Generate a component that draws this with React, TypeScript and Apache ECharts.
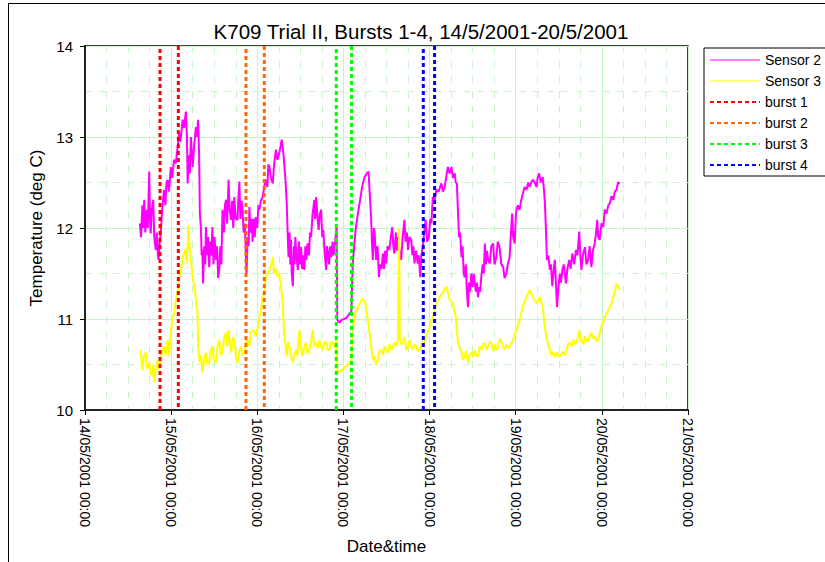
import React, { useEffect, useRef } from 'react';
import * as echarts from 'echarts';

const FONT = '"Liberation Sans", Arial, Helvetica, sans-serif';

const titleText = 'K709 Trial II, Bursts 1-4, 14/5/2001-20/5/2001';
const xAxisName = 'Date&time';
const yAxisName = 'Temperature (deg C)';

// x values are hours since 14/05/2001 00:00
const xTickLabels = [
  '14/05/2001 00:00',
  '15/05/2001 00:00',
  '16/05/2001 00:00',
  '17/05/2001 00:00',
  '18/05/2001 00:00',
  '19/05/2001 00:00',
  '20/05/2001 00:00',
  '21/05/2001 00:00',
];
const yTickLabels = ['10', '11', '12', '13', '14'];

const sensor2: [number, number][] = [
  [15.3, 12.05], [15.6, 11.9], [16.0, 12.25], [16.3, 12.0], [16.5, 12.31], [16.8, 11.95],
  [17.2, 12.2], [17.5, 12.0], [17.9, 12.62], [18.1, 12.1], [18.3, 11.94], [18.6, 12.2],
  [19.0, 12.31], [19.3, 11.9], [19.7, 11.76], [20.0, 11.95], [20.3, 11.7], [20.5, 11.65],
  [20.8, 11.85], [21.1, 11.94], [21.5, 12.2], [22.0, 12.42], [22.4, 12.25], [22.7, 12.5],
  [23.0, 12.53], [23.4, 12.4], [23.9, 12.67], [24.3, 12.55], [24.8, 12.75], [25.3, 12.71],
  [25.7, 12.85], [26.2, 13.04], [26.6, 12.95], [27.2, 13.19], [27.6, 13.1], [28.1, 13.28],
  [28.4, 13.0], [28.6, 12.49], [28.9, 12.8], [29.2, 12.6], [29.5, 13.0], [30.0, 12.67],
  [30.4, 12.9], [30.9, 13.11], [31.2, 13.0], [31.5, 13.19], [31.8, 12.8], [32.0, 12.16],
  [32.3, 12.0], [32.5, 11.7], [32.7, 11.76], [32.9, 11.39], [33.2, 11.8], [33.5, 11.6],
  [33.7, 12.01], [34.0, 11.7], [34.3, 11.9], [34.6, 11.57], [34.9, 11.85], [35.2, 11.7],
  [35.5, 12.01], [35.8, 11.6], [36.1, 11.9], [36.5, 11.65], [36.8, 11.8], [37.1, 11.45],
  [37.4, 11.54], [37.7, 11.8], [38.0, 11.6], [38.3, 12.2], [38.7, 11.95], [39.0, 12.25],
  [39.3, 12.31], [39.6, 12.05], [40.0, 12.53], [40.3, 12.2], [40.7, 12.09], [41.0, 12.3],
  [41.3, 12.0], [41.6, 12.34], [42.0, 12.1], [42.5, 12.09], [42.7, 12.3], [43.0, 12.51],
  [43.3, 12.1], [43.6, 12.3], [43.9, 12.2], [44.2, 11.95], [44.5, 12.05], [44.7, 11.87],
  [45.0, 11.5], [45.3, 11.9], [45.6, 11.8], [45.8, 12.23], [46.1, 11.95], [46.4, 12.1],
  [46.7, 11.85], [47.0, 12.1], [47.3, 11.9], [47.6, 12.12], [48.0, 12.0], [48.3, 12.25],
  [48.6, 12.2], [49.0, 12.3], [49.5, 12.34], [49.9, 12.45], [50.4, 12.53], [50.8, 12.45],
  [51.1, 12.7], [51.4, 12.67], [51.8, 12.55], [52.3, 12.49], [52.7, 12.7], [53.2, 12.86],
  [53.6, 12.75], [54.1, 12.82], [54.5, 12.9], [54.8, 12.97], [55.2, 12.85], [55.5, 12.71],
  [55.9, 12.5], [56.2, 12.27], [56.5, 11.9], [56.7, 11.68], [57.0, 11.95], [57.2, 11.6],
  [57.4, 11.87], [57.6, 11.5], [57.9, 11.36], [58.2, 11.8], [58.4, 11.6], [58.6, 11.9],
  [58.9, 11.7], [59.3, 11.54], [59.6, 11.85], [59.9, 11.6], [60.2, 11.79], [60.5, 11.55],
  [60.8, 11.7], [61.1, 11.54], [61.4, 11.8], [61.7, 11.65], [62.0, 11.83], [62.4, 11.7],
  [62.7, 11.95], [63.0, 11.9], [63.4, 12.15], [63.9, 12.31], [64.1, 12.1], [64.4, 12.34],
  [64.8, 12.1], [65.1, 11.98], [65.4, 12.15], [65.8, 12.2], [66.1, 11.9], [66.4, 11.98],
  [66.8, 11.7], [67.2, 11.54], [67.4, 11.8], [67.6, 11.76], [68.0, 11.6], [68.3, 11.8],
  [68.6, 11.68], [69.0, 11.85], [69.2, 11.7], [69.5, 11.76], [69.8, 11.9], [70.1, 12.01],
  [70.3, 10.99], [70.9, 10.96], [71.5, 10.99], [72.2, 11.0], [72.8, 11.01], [73.5, 11.05],
  [74.2, 11.08], [74.6, 11.61], [75.0, 11.8], [75.4, 11.98], [76.0, 12.15], [76.5, 12.27],
  [77.2, 12.45], [77.9, 12.56], [78.5, 12.6], [79.0, 12.62], [79.3, 12.4], [79.7, 12.12],
  [80.0, 11.8], [80.2, 11.65], [80.5, 12.0], [80.7, 11.95], [81.1, 11.65], [81.5, 11.8],
  [81.9, 11.46], [82.2, 11.6], [82.6, 11.55], [83.0, 11.72], [83.3, 11.55], [83.6, 11.75],
  [83.9, 11.61], [84.3, 11.8], [84.8, 11.76], [85.2, 11.9], [85.6, 12.01], [85.9, 11.8],
  [86.2, 11.72], [86.6, 11.95], [86.9, 11.75], [87.2, 11.9], [87.6, 11.75], [88.1, 11.65],
  [88.5, 11.9], [89.0, 12.09], [89.3, 11.85], [89.7, 11.95], [90.0, 11.76], [90.4, 11.9],
  [90.9, 11.87], [91.2, 11.7], [91.5, 11.8], [91.8, 11.61], [92.2, 11.75], [92.7, 11.61],
  [93.0, 11.7], [93.4, 11.46], [93.7, 11.7], [94.1, 11.79], [94.5, 11.95], [94.9, 12.09],
  [95.3, 11.85], [95.8, 11.9], [96.2, 12.1], [96.5, 12.05], [96.9, 12.34], [97.4, 12.3],
  [97.9, 12.42], [98.5, 12.4], [99.3, 12.49], [99.7, 12.4], [100.2, 12.45], [100.6, 12.55],
  [101.1, 12.67], [101.6, 12.6], [102.1, 12.67], [102.5, 12.55], [103.0, 12.6], [103.3, 12.5],
  [103.6, 12.49], [103.9, 12.2], [104.2, 11.9], [104.5, 11.95], [104.9, 11.68], [105.2, 11.8],
  [105.5, 11.5], [105.8, 11.46], [106.1, 11.6], [106.4, 11.3], [106.7, 11.13], [107.0, 11.4],
  [107.3, 11.3], [107.6, 11.5], [108.0, 11.35], [108.3, 11.5], [108.6, 11.39], [108.9, 11.3],
  [109.2, 11.4], [109.5, 11.24], [109.8, 11.35], [110.1, 11.3], [110.4, 11.46], [110.8, 11.6],
  [111.1, 11.5], [111.4, 11.83], [111.7, 11.6], [112.0, 11.75], [112.3, 11.65], [112.8, 11.61],
  [113.2, 11.8], [113.7, 11.83], [114.1, 11.6], [114.6, 11.68], [115.0, 11.85], [115.5, 11.79],
  [116.0, 11.6], [116.5, 11.57], [116.9, 11.45], [117.4, 11.5], [117.8, 11.6], [118.3, 11.68],
  [118.6, 11.9], [119.0, 12.16], [119.3, 11.9], [119.7, 11.83], [120.0, 12.1], [120.2, 12.2],
  [120.6, 12.25], [121.1, 12.2], [121.5, 12.3], [122.0, 12.38], [122.5, 12.45], [123.0, 12.42],
  [123.5, 12.5], [123.9, 12.45], [124.3, 12.5], [124.8, 12.53], [125.3, 12.5], [125.8, 12.45],
  [126.1, 12.55], [126.5, 12.6], [127.0, 12.5], [127.5, 12.56], [127.8, 12.45], [128.1, 12.3],
  [128.4, 12.01], [128.7, 11.65], [129.1, 11.7], [129.5, 11.54], [129.8, 11.6], [130.2, 11.36],
  [130.6, 11.55], [130.9, 11.65], [131.2, 11.4], [131.5, 11.13], [131.9, 11.35], [132.3, 11.5],
  [132.6, 11.4], [133.0, 11.54], [133.4, 11.6], [134.0, 11.39], [134.4, 11.55], [134.9, 11.65],
  [135.3, 11.55], [135.8, 11.72], [136.3, 11.6], [136.8, 11.76], [137.2, 11.7], [137.7, 11.96],
  [138.0, 11.7], [138.3, 11.54], [138.7, 11.7], [139.3, 11.79], [139.7, 11.6], [140.2, 11.65],
  [140.6, 11.8], [141.1, 11.57], [141.5, 11.75], [142.0, 11.83], [142.4, 11.95], [142.7, 12.09],
  [143.0, 11.9], [143.4, 11.87], [143.9, 12.05], [144.4, 12.01], [144.8, 12.2], [145.3, 12.16],
  [145.8, 12.25], [146.2, 12.27], [146.7, 12.35], [147.2, 12.31], [147.6, 12.4], [148.1, 12.42],
  [148.5, 12.5], [149.0, 12.49],
];

const sensor3: [number, number][] = [
  [15.5, 10.66], [15.8, 10.5], [16.0, 10.44], [16.4, 10.6], [16.9, 10.63], [17.3, 10.45],
  [17.9, 10.52], [18.3, 10.4], [18.8, 10.37], [19.0, 10.5], [19.3, 10.3], [19.7, 10.45],
  [20.2, 10.55], [20.6, 10.45], [21.1, 10.55], [21.5, 10.65], [22.0, 10.7], [22.5, 10.6],
  [23.0, 10.77], [23.4, 10.59], [23.9, 10.85], [24.4, 11.02], [24.8, 11.05], [25.3, 11.21],
  [25.8, 11.3], [26.2, 11.46], [26.7, 11.5], [27.2, 11.68], [27.9, 11.76], [28.3, 11.61],
  [28.6, 11.8], [28.8, 12.03], [29.1, 11.8], [29.5, 11.65], [30.1, 11.43], [30.5, 11.35],
  [30.9, 11.21], [31.3, 11.1], [31.6, 10.66], [32.0, 10.52], [32.4, 10.6], [32.7, 10.41],
  [33.2, 10.55], [33.7, 10.63], [34.1, 10.5], [34.6, 10.52], [35.0, 10.65], [35.5, 10.7],
  [35.9, 10.55], [36.5, 10.52], [36.9, 10.7], [37.4, 10.77], [37.8, 10.6], [38.3, 10.63],
  [38.8, 10.8], [39.3, 10.85], [39.6, 10.7], [40.0, 10.88], [40.4, 10.7], [40.7, 10.63],
  [41.2, 10.8], [41.6, 10.77], [42.0, 10.6], [42.5, 10.52], [43.0, 10.65], [43.4, 10.7],
  [43.9, 10.6], [44.4, 10.63], [44.8, 10.75], [45.3, 10.77], [45.8, 10.7], [46.2, 10.85],
  [46.9, 10.88], [47.6, 10.81], [48.1, 10.9], [48.6, 11.02], [49.0, 11.1], [49.5, 11.24],
  [50.0, 11.3], [50.4, 11.46], [50.9, 11.5], [51.4, 11.54], [51.9, 11.6], [52.3, 11.68],
  [52.7, 11.5], [53.2, 11.55], [53.7, 11.46], [54.1, 11.5], [54.6, 11.36], [55.1, 11.17],
  [55.5, 10.81], [55.9, 10.7], [56.2, 10.59], [56.6, 10.75], [56.9, 10.7], [57.4, 10.6],
  [57.9, 10.52], [58.3, 10.6], [58.8, 10.66], [59.2, 10.6], [59.7, 10.88], [60.1, 10.7],
  [60.6, 10.59], [61.1, 10.7], [61.6, 10.74], [62.0, 10.62], [62.5, 10.66], [63.0, 10.75],
  [63.4, 10.88], [63.9, 10.7], [64.4, 10.74], [64.8, 10.68], [65.3, 10.77], [65.8, 10.7],
  [66.2, 10.66], [66.7, 10.75], [67.2, 10.74], [67.6, 10.66], [68.1, 10.66], [68.6, 10.75],
  [69.0, 10.74], [69.5, 10.68], [69.9, 10.77], [70.3, 10.44], [70.9, 10.41], [71.8, 10.45],
  [72.8, 10.48], [73.7, 10.52], [74.2, 10.55], [74.6, 10.88], [75.4, 11.07], [76.5, 11.17],
  [77.4, 11.23], [78.1, 11.17], [78.8, 10.99], [79.5, 10.77], [80.2, 10.55], [80.7, 10.59],
  [81.1, 10.5], [81.6, 10.55], [82.0, 10.65], [82.5, 10.66], [83.0, 10.6], [83.4, 10.7],
  [83.9, 10.65], [84.4, 10.63], [84.8, 10.72], [85.3, 10.66], [85.8, 10.7], [86.2, 10.74],
  [86.7, 10.7], [87.2, 10.77], [87.5, 12.0], [87.7, 10.8], [88.1, 10.72], [88.6, 10.74],
  [89.0, 10.8], [89.5, 10.66], [90.0, 10.7], [90.4, 10.77], [90.9, 10.7], [91.3, 10.66],
  [91.8, 10.72], [92.3, 10.7], [92.7, 10.65], [93.2, 10.66], [93.6, 10.7], [94.1, 10.74],
  [94.6, 10.75], [95.1, 10.81], [96.0, 10.92], [96.9, 11.02], [97.9, 11.17], [98.8, 11.24],
  [99.7, 11.29], [100.7, 11.36], [101.6, 11.21], [102.5, 11.17], [103.3, 11.02], [103.9, 10.74],
  [104.9, 10.63], [105.3, 10.55], [105.8, 10.59], [106.2, 10.65], [106.7, 10.52], [107.1, 10.6],
  [107.6, 10.63], [108.1, 10.58], [108.6, 10.66], [109.0, 10.6], [109.5, 10.59], [110.0, 10.7],
  [110.4, 10.66], [110.9, 10.72], [111.4, 10.74], [111.8, 10.66], [112.3, 10.7], [112.8, 10.75],
  [113.2, 10.74], [113.7, 10.65], [114.2, 10.72], [114.6, 10.66], [115.1, 10.7], [115.6, 10.78],
  [116.0, 10.75], [116.5, 10.7], [116.9, 10.66], [117.4, 10.72], [117.9, 10.68], [118.3, 10.7],
  [119.3, 10.77], [120.2, 10.88], [121.1, 10.99], [122.0, 11.14], [123.0, 11.24], [123.9, 11.32],
  [124.8, 11.24], [125.8, 11.17], [126.7, 11.24], [127.5, 11.14], [128.1, 10.92], [128.7, 10.77],
  [129.5, 10.66], [130.0, 10.6], [130.4, 10.64], [131.0, 10.58], [131.4, 10.63], [131.9, 10.6],
  [132.3, 10.59], [132.8, 10.62], [133.2, 10.64], [133.7, 10.6], [134.1, 10.66], [134.6, 10.72],
  [135.1, 10.74], [135.6, 10.7], [136.0, 10.77], [136.5, 10.72], [136.9, 10.75], [137.3, 10.8],
  [137.7, 10.88], [138.0, 10.75], [138.3, 10.77], [138.8, 10.72], [139.3, 10.81], [139.8, 10.75],
  [140.2, 10.77], [140.7, 10.82], [141.1, 10.85], [141.5, 10.78], [142.0, 10.81], [142.5, 10.75],
  [142.9, 10.77], [143.9, 10.92], [144.8, 11.02], [145.8, 11.1], [146.7, 11.17], [147.6, 11.29],
  [148.1, 11.39], [149.0, 11.32],
];

const burstNames = ['burst 1', 'burst 2', 'burst 3', 'burst 4'];
const burstColors = ['#FF0000', '#FF6600', '#00FF00', '#0000FF'];
// start / end hours of each burst
const burstTimes: [number, number][] = [
  [20.9, 26.0],
  [44.85, 49.95],
  [70.0, 74.25],
  [94.25, 97.4],
];

const Y_MIN = 10;
const Y_MAX = 14;
const GRID_COLOR = '#c8f5c8';

export default function App() {
  const ref = useRef<HTMLDivElement>(null);

  useEffect(() => {
    if (!ref.current) return;
    const chart = echarts.init(ref.current, undefined, { renderer: 'svg' });

    const burstSeries = burstNames.map((name, i) => {
      const [a, b] = burstTimes[i];
      return {
        name,
        type: 'line',
        data: [
          [a, Y_MIN],
          [a, Y_MAX],
          [a, null],
          [b, Y_MAX],
          [b, Y_MIN],
        ],
        connectNulls: false,
        symbol: 'none',
        showSymbol: false,
        lineStyle: { color: burstColors[i], width: 3, type: [4, 3] },
        itemStyle: { color: burstColors[i] },
        z: 5,
        silent: true,
      };
    });

    chart.setOption({
      animation: false,
      backgroundColor: '#ffffff',
      textStyle: { fontFamily: FONT },
      graphic: [
        {
          type: 'rect',
          shape: { x: 8.5, y: 3.5, width: 1000, height: 1000 },
          style: { fill: 'none', stroke: '#000', lineWidth: 1 },
          silent: true,
          z: 0,
        },
        {
          type: 'text',
          x: 421,
          y: 31,
          style: {
            text: titleText,
            fontFamily: FONT,
            fontSize: 20.5,
            fill: '#000',
            align: 'center',
            verticalAlign: 'middle',
          },
          silent: true,
        },
      ],
      legend: {
        orient: 'vertical',
        left: 704,
        top: 48,
        padding: [5, 60, 4, 5],
        itemWidth: 50,
        itemHeight: 14,
        itemGap: 7,
        borderColor: '#000',
        borderWidth: 1,
        backgroundColor: '#fff',
        itemStyle: { opacity: 0 },
        textStyle: { fontFamily: FONT, fontSize: 14, color: '#000' },
        data: [
          { name: 'Sensor 2', lineStyle: { width: 1 } },
          { name: 'Sensor 3', lineStyle: { width: 1 } },
          ...burstNames,
        ],
      },
      grid: {
        left: 85,
        right: 137,
        top: 46,
        bottom: 152,
        show: true,
        borderColor: '#000',
        borderWidth: 1.5,
        backgroundColor: '#fff',
      },
      xAxis: {
        type: 'value',
        min: 0,
        max: 168,
        interval: 24,
        name: xAxisName,
        nameLocation: 'middle',
        nameGap: 128,
        nameTextStyle: { fontFamily: FONT, fontSize: 17, color: '#000' },
        axisLine: { show: true, onZero: false, lineStyle: { color: '#222', width: 2 } },
        axisTick: { show: true, length: 5, lineStyle: { color: '#000', width: 1 } },
        axisLabel: {
          rotate: -90,
          margin: 8,
          fontFamily: FONT,
          fontSize: 14,
          color: '#000',
          formatter: (v: number) => xTickLabels[Math.round(v / 24)] ?? '',
        },
        splitLine: { show: true, lineStyle: { color: GRID_COLOR, width: 1, type: 'solid' } },
        minorTick: { show: false, splitNumber: 4 },
        minorSplitLine: { show: true, lineStyle: { color: GRID_COLOR, width: 1, type: [7, 8] } },
      },
      yAxis: {
        type: 'value',
        min: Y_MIN,
        max: Y_MAX,
        interval: 1,
        name: yAxisName,
        nameLocation: 'middle',
        nameGap: 40,
        nameTextStyle: { fontFamily: FONT, fontSize: 17, color: '#000' },
        axisLine: { show: true, lineStyle: { color: '#222', width: 2 } },
        axisTick: { show: true, length: 5, lineStyle: { color: '#000', width: 1 } },
        axisLabel: {
          margin: 12,
          fontFamily: FONT,
          fontSize: 15,
          color: '#000',
          formatter: (v: number) => yTickLabels[Math.round(v - Y_MIN)] ?? '',
        },
        splitLine: { show: true, lineStyle: { color: GRID_COLOR, width: 1, type: 'solid' } },
        minorTick: { show: false, splitNumber: 2 },
        minorSplitLine: { show: true, lineStyle: { color: GRID_COLOR, width: 1, type: [7, 7] } },
      },
      series: [
        {
          name: 'Sensor 2',
          type: 'line',
          data: sensor2,
          symbol: 'none',
          showSymbol: false,
          lineStyle: { color: '#FF00FF', width: 2 },
          itemStyle: { color: '#FF00FF' },
          z: 3,
          silent: true,
        },
        {
          name: 'Sensor 3',
          type: 'line',
          data: sensor3,
          symbol: 'none',
          showSymbol: false,
          lineStyle: { color: '#FFFF00', width: 2 },
          itemStyle: { color: '#FFFF00' },
          z: 3,
          silent: true,
        },
        ...burstSeries,
      ],
    });

    return () => chart.dispose();
  }, []);

  return (
    <div
      ref={ref}
      style={{ position: 'absolute', left: 0, top: 0, width: 825, height: 562 }}
    />
  );
}
